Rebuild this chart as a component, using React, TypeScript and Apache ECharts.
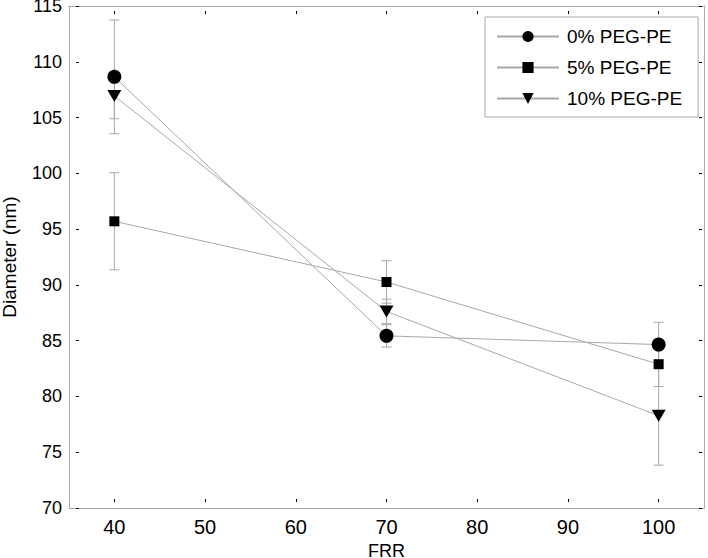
import React, { useEffect, useRef } from "react";
import * as echarts from "echarts";

const frr = [40, 70, 100];
const seriesNames = ["0% PEG-PE", "5% PEG-PE", "10% PEG-PE"];
const mean0 = [108.65, 85.43, 84.65];
const err0 = [5.1, 1.0, 2.0];
const mean5 = [95.7, 90.26, 82.89];
const err5 = [4.35, 1.9, 2.0];
const mean10 = [106.94, 87.62, 78.27];
const err10 = [2.05, 1.1, 4.43];
const xTicks = [40, 50, 60, 70, 80, 90, 100];

const GRAY = "#a8a8a8";
const FONT = "Liberation Sans";

export default function App() {
  const ref = useRef<HTMLDivElement>(null);
  useEffect(() => {
    document.body.style.margin = "0";
    const chart = echarts.init(ref.current!, null, { renderer: "svg" });
    const means = [mean0, mean5, mean10];
    const errs = [err0, err5, err10];
    const symbols = ["circle", "rect", "triangle"];
    const sizes: any[] = [14, 10, [14, 12]];
    const rotates = [0, 0, 180];

    const xBase = { type: "value", min: 35, max: 105, splitLine: { show: false } };
    const yBase = { type: "value", min: 70, max: 115, interval: 5, splitLine: { show: false } };
    const tickOnly = {
      axisLine: { show: false },
      axisLabel: { show: false },
      axisTick: { show: true, inside: true, length: 3, lineStyle: { color: "#000", width: 1 } },
    };
    const frame = {
      axisLine: { show: true, lineStyle: { color: GRAY, width: 1 } },
      axisTick: { show: false },
      axisLabel: { show: false },
    };
    const gridRect = {
      left: 69,
      right: 4,
      top: 6,
      bottom: 50,
      containLabel: false,
      outerBoundsMode: "none",
    };

    const lineSeries = seriesNames.map((name, i) => ({
      name,
      type: "line",
      xAxisIndex: 0,
      yAxisIndex: 0,
      data: frr.map((x, j) => [x, means[i][j]]),
      symbol: symbols[i],
      symbolSize: sizes[i],
      symbolRotate: rotates[i],
      showSymbol: true,
      itemStyle: { color: "#000" },
      lineStyle: { color: GRAY, width: 1 },
      z: 3,
    }));

    const errSeries = seriesNames.map((name, i) => ({
      name: name + " err",
      type: "custom",
      xAxisIndex: 0,
      yAxisIndex: 0,
      data: frr.map((x, j) => [x, means[i][j] - errs[i][j], means[i][j] + errs[i][j]]),
      encode: { x: 0, y: [1, 2] },
      z: 2,
      renderItem: (params: any, api: any) => {
        const x = api.value(0);
        const lo = api.coord([x, api.value(1)]);
        const hi = api.coord([x, api.value(2)]);
        const w = 5;
        const style = { stroke: GRAY, lineWidth: 1 };
        return {
          type: "group",
          children: [
            { type: "line", shape: { x1: lo[0], y1: lo[1], x2: hi[0], y2: hi[1] }, style },
            { type: "line", shape: { x1: hi[0] - w, y1: hi[1], x2: hi[0] + w, y2: hi[1] }, style },
            { type: "line", shape: { x1: lo[0] - w, y1: lo[1], x2: lo[0] + w, y2: lo[1] }, style },
          ],
        };
      },
    }));

    chart.setOption({
      animation: false,
      backgroundColor: "#fff",
      grid: [gridRect, { ...gridRect }],
      legend: {
        data: seriesNames,
        orient: "vertical",
        left: 485,
        top: 17,
        itemWidth: 62,
        itemHeight: 14,
        itemGap: 12,
        padding: [10, 16, 9, 11],
        borderColor: GRAY,
        borderWidth: 1,
        backgroundColor: "#fff",
        textStyle: { fontSize: 19, color: "#000", fontFamily: FONT, padding: [0, 0, 0, 3] },
      },
      xAxis: [
        {
          ...xBase,
          gridIndex: 0,
          position: "bottom",
          name: "FRR",
          nameLocation: "middle",
          nameGap: 27,
          nameTextStyle: { fontSize: 18, color: "#000", fontFamily: FONT, lineHeight: 16 },
          axisLine: { show: true, lineStyle: { color: GRAY, width: 1 } },
          axisTick: { show: false },
          axisLabel: {
            show: true,
            customValues: xTicks,
            margin: 9,
            fontSize: 20,
            color: "#000",
            fontFamily: FONT,
          },
        },
        { ...xBase, gridIndex: 0, position: "top", ...frame },
        {
          ...xBase,
          gridIndex: 1,
          position: "bottom",
          offset: -6,
          ...tickOnly,
          axisTick: { ...tickOnly.axisTick, customValues: xTicks },
        },
        {
          ...xBase,
          gridIndex: 1,
          position: "top",
          offset: -5,
          ...tickOnly,
          axisTick: { ...tickOnly.axisTick, customValues: xTicks },
        },
      ],
      yAxis: [
        {
          ...yBase,
          gridIndex: 0,
          position: "left",
          name: "Diameter (nm)",
          nameLocation: "middle",
          nameGap: 52,
          nameTextStyle: { fontSize: 19, color: "#000", fontFamily: FONT, lineHeight: 16 },
          axisLine: { show: true, lineStyle: { color: GRAY, width: 1 } },
          axisTick: { show: false },
          axisLabel: {
            show: true,
            margin: 7,
            fontSize: 18,
            lineHeight: 14,
            color: "#000",
            fontFamily: FONT,
          },
        },
        { ...yBase, gridIndex: 0, position: "right", ...frame },
        { ...yBase, gridIndex: 1, position: "left", offset: -7, ...tickOnly },
        { ...yBase, gridIndex: 1, position: "right", offset: -2, ...tickOnly },
      ],
      series: [...errSeries, ...lineSeries],
    });
    return () => chart.dispose();
  }, []);
  return <div ref={ref} style={{ width: 708, height: 558 }} />;
}
